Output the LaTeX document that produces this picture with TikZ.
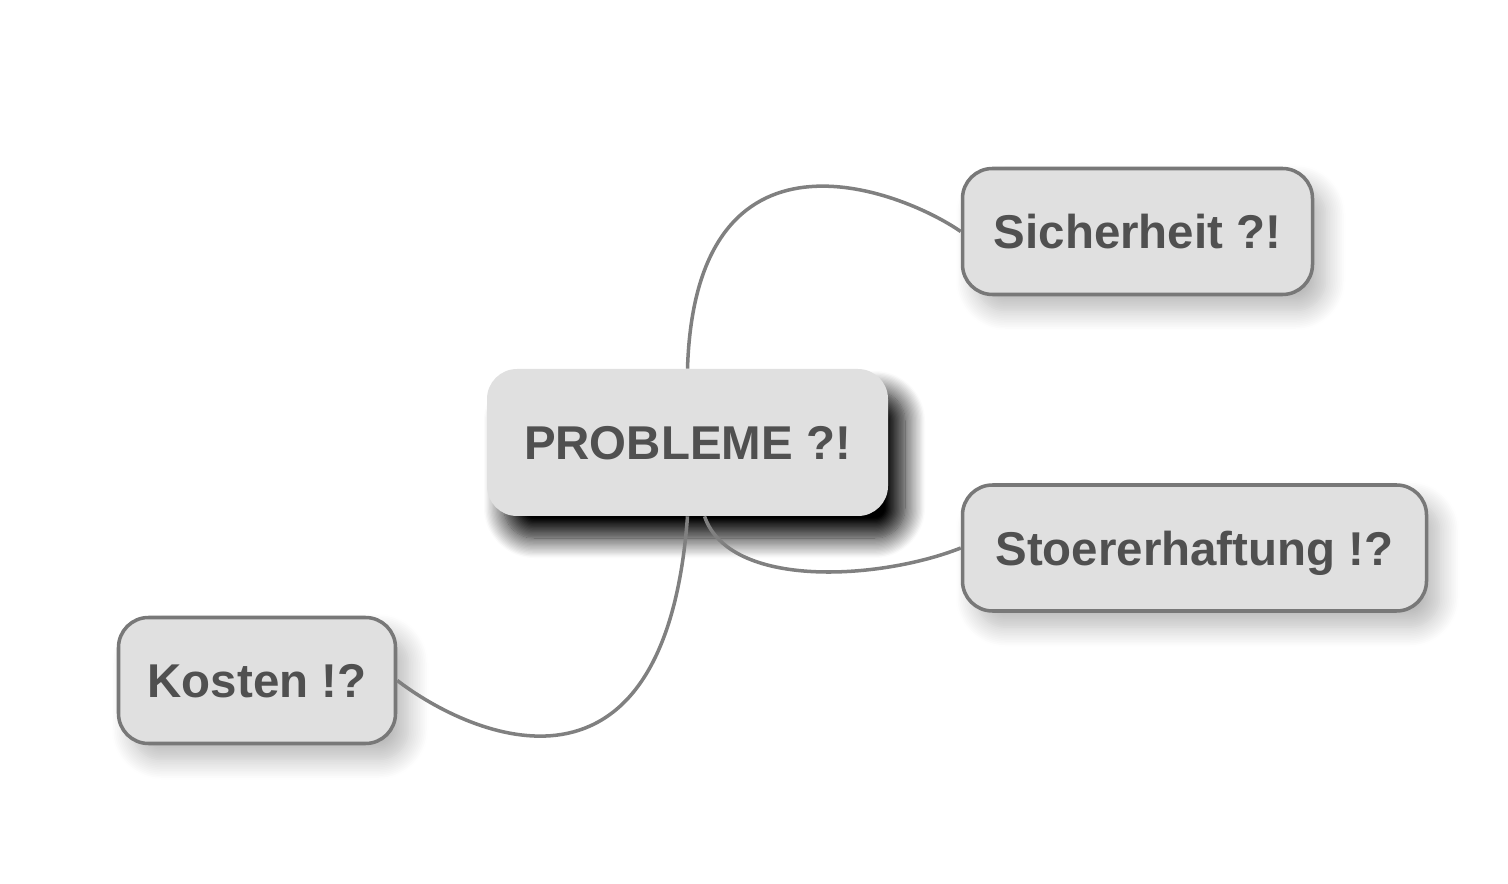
\documentclass[tikz,border=0pt]{standalone}
\usepackage{xcolor}
\usepackage{fontspec}
\setmainfont{Liberation Sans}
\usepackage{tikz}
\usetikzlibrary{positioning,calc,shadows.blur}

\definecolor{boxfill}{HTML}{E0E0E0}
\definecolor{boxline}{HTML}{787878}
\definecolor{linkgray}{HTML}{808080}
\definecolor{textgray}{HTML}{505050}

\begin{document}
\begin{tikzpicture}[
	font=\bfseries\fontsize{27}{32}\selectfont,
	% Style for the central node (black shadow, no border)
	mainnode/.style={
		rectangle, rounded corners=0.6cm, fill=boxfill, text=textgray,
		minimum width=8.02cm, minimum height=2.94cm, inner sep=0pt,
		text height=0.7cm, text depth=0pt,
		blur shadow={shadow xshift=0.34cm, shadow yshift=-0.44cm,
			shadow blur radius=0.4cm, shadow opacity=100, shadow blur steps=16}
	},
	% Style for the outer nodes
	subnode/.style={
		rectangle, rounded corners=0.6cm, fill=boxfill, text=textgray,
		draw=boxline, line width=2pt,
		minimum height=2.52cm, inner sep=0pt,
		text height=0.7cm, text depth=0pt,
		blur shadow={shadow xshift=0.26cm, shadow yshift=-0.32cm,
			shadow blur radius=0.4cm, shadow opacity=28, shadow blur steps=12}
	},
	% Style for the curved links
	link/.style={draw=linkgray, line width=2pt}
	]
	\useasboundingbox (0,0) rectangle (30.16,-17.68);
	
	% --- NODES ---
	\node[mainnode] (pb) at (13.75,-8.85) {PROBLEME ?!};
	\node[subnode, minimum width=7.0cm] (sh) at (22.75,-4.63) {Sicherheit ?!};
	\node[subnode, minimum width=9.28cm] (st) at (23.89,-10.96) {Stoererhaftung !?};
	\node[subnode, minimum width=5.54cm] (ko) at (5.14,-13.61) {Kosten !?};
	
	% --- LINKS ---
	\draw[link] (pb.north) .. controls +(0.16,5.18) and +(-1.22,0.84) .. (sh.west);
	\draw[link] (pb.-77) .. controls +(0.5,-1.46) and +(-1.62,-0.64) .. (st.west);
	\draw[link] (pb.south) .. controls +(-0.45,-6.1) and +(1.5,-1.15) .. (ko.east);
	
\end{tikzpicture}
\end{document}
